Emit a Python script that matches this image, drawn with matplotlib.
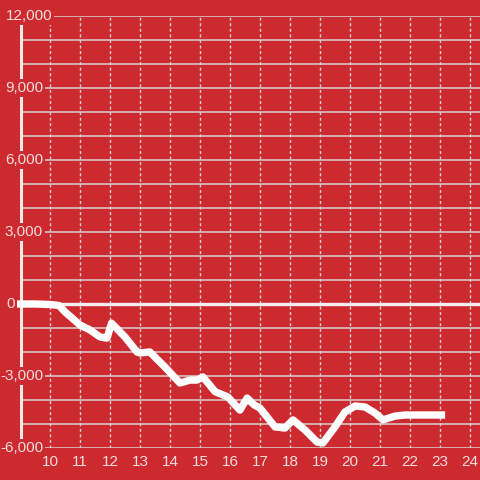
import numpy as np
import matplotlib
matplotlib.use('Agg')
import matplotlib.pyplot as plt

bg = '#cc2a2f'
txt = '#f3dcdc'
grid = '#d9d0d0'

hours = [8.9, 9.5, 10.0, 10.3, 10.5, 10.75, 11.0, 11.33, 11.67, 11.9, 12.05,
         12.5, 12.9, 13.0, 13.33, 13.83, 14.33, 14.67, 14.9, 15.1, 15.5, 15.93,
         16.33, 16.57, 16.8, 17.0, 17.5, 17.83, 18.1, 18.5, 18.9, 19.1, 19.5,
         19.83, 20.17, 20.5, 20.83, 21.1, 21.5, 21.83, 23.17]
values = [0, 0, -20, -60, -330, -600, -875, -1080, -1375, -1420, -800,
          -1375, -2000, -2040, -2000, -2625, -3290, -3170, -3170, -3040, -3650, -3875,
          -4420, -3920, -4200, -4340, -5120, -5170, -4830, -5250, -5750, -5790, -5120,
          -4500, -4250, -4290, -4540, -4830, -4670, -4625, -4625]

yticks = [-6000, -3000, 0, 3000, 6000, 9000, 12000]
xticks = list(range(10, 25))

fig = plt.figure(figsize=(4.8, 4.8), dpi=100, facecolor=bg)
ax = fig.add_axes([20 / 480, 32 / 480, 460 / 480, 432 / 480], facecolor=bg)
ax.set_xlim(9, 24.333)
ax.set_ylim(-6000, 12000)

for y in range(-6000, 12001, 1000):
    ax.axhline(y, color=grid, lw=1.1, zorder=1)
for x in xticks:
    ax.plot([x, x], [-6000, 12000], color=grid, lw=1.0, ls=(0, (2.2, 1.8)), zorder=1)

ax.axhline(0, color='#f4eeee', lw=2.4, zorder=2)
ax.axvline(9.03, color='#eeeaea', lw=2.2, zorder=2)
ax.plot(hours, values, color='white', lw=5.3, solid_joinstyle='round',
        solid_capstyle='butt', zorder=3, clip_on=False)

for s in ax.spines.values():
    s.set_visible(False)
ax.set_xticks([])
ax.set_yticks([])

# right edge of each y label, in pixels from the left
label_right = {12000: 52, 0: 15}
for y in yticks:
    xr = label_right.get(y, 43)
    ax.text(9 + (xr - 20) / 30, y, f'{y:,}', ha='right', va='center',
            color=txt, fontsize=11, family='Liberation Sans', zorder=5,
            clip_on=False, bbox=dict(facecolor=bg, edgecolor='none', pad=1.5))
for x in xticks:
    ax.text(x, -6600, str(x), ha='center', va='center', color=txt,
            fontsize=11, family='Liberation Sans', zorder=5, clip_on=False)

fig.savefig('out.png', dpi=100, facecolor=bg)
